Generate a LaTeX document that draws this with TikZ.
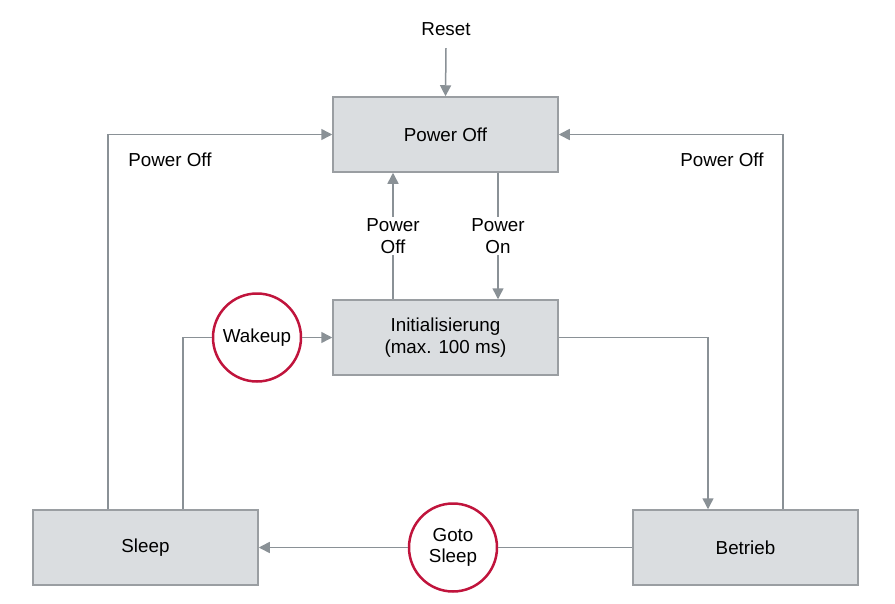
\documentclass[tikz,border=0pt]{standalone}
\usepackage{fontspec}
\setmainfont{Liberation Sans}
\usetikzlibrary{arrows.meta}
\definecolor{linegray}{HTML}{8A9196}
\definecolor{boxgray}{HTML}{9A9EA2}
\definecolor{boxfill}{HTML}{DADDE0}
\definecolor{eventred}{HTML}{C0143C}
\begin{document}
\begin{tikzpicture}[x=1pt,y=-1pt,
  every node/.style={font=\fontsize{18.8}{21.5}\selectfont,text=black},
  state/.style={draw=boxgray,fill=boxfill,line width=1.5pt,minimum width=225pt,minimum height=75pt,align=center},
  event/.style={circle,draw=eventred,fill=white,line width=2.5pt,minimum size=88pt,inner sep=0pt,align=center},
  line/.style={draw=linegray,line width=1.5pt},
  flow/.style={line,-{Triangle[length=11pt,width=11pt]}},
  lbl/.style={fill=white,align=center,inner sep=2pt}]
\useasboundingbox (0,0) rectangle (895,603);
\node[state] (off) at (445.5,134.5) {Power Off};
\node[state] (init) at (445.5,337.5) {Initialisierung\\(max. 100 ms)};
\node[state] (sleep) at (145.5,547.5) {Sleep};
\node[state] (run) at (745.5,547.5) {Betrieb};
\node[event] (wake) at (257,337.5) {Wakeup};
\node[event] (gotosleep) at (453,547.5) {Goto\\Sleep};
\node (reset) at (446,29) {Reset};
\node (offleft) at (170,160) {Power Off};
\node (offright) at (722,160) {Power Off};
\draw[flow] ([yshift=-9pt]reset.south) -- (off.north);
\draw[flow] ([xshift=-37.5pt]sleep.north) |- (off.west);
\draw[flow] ([xshift=37.5pt]run.north) |- (off.east);
\draw[flow] ([xshift=52.5pt]off.south) -- ([xshift=52.5pt]init.north) node[lbl,midway] {Power\\On};
\draw[flow] ([xshift=-52.5pt]init.north) -- ([xshift=-52.5pt]off.south) node[lbl,midway] {Power\\Off};
\draw[flow] (init.east) -| ([xshift=-37.5pt]run.north);
\draw[line] ([xshift=37.5pt]sleep.north) |- (wake.west);
\draw[flow] (wake.east) -- (init.west);
\draw[line] (run.west) -- (gotosleep.east);
\draw[flow] (gotosleep.west) -- (sleep.east);
\end{tikzpicture}
\end{document}
